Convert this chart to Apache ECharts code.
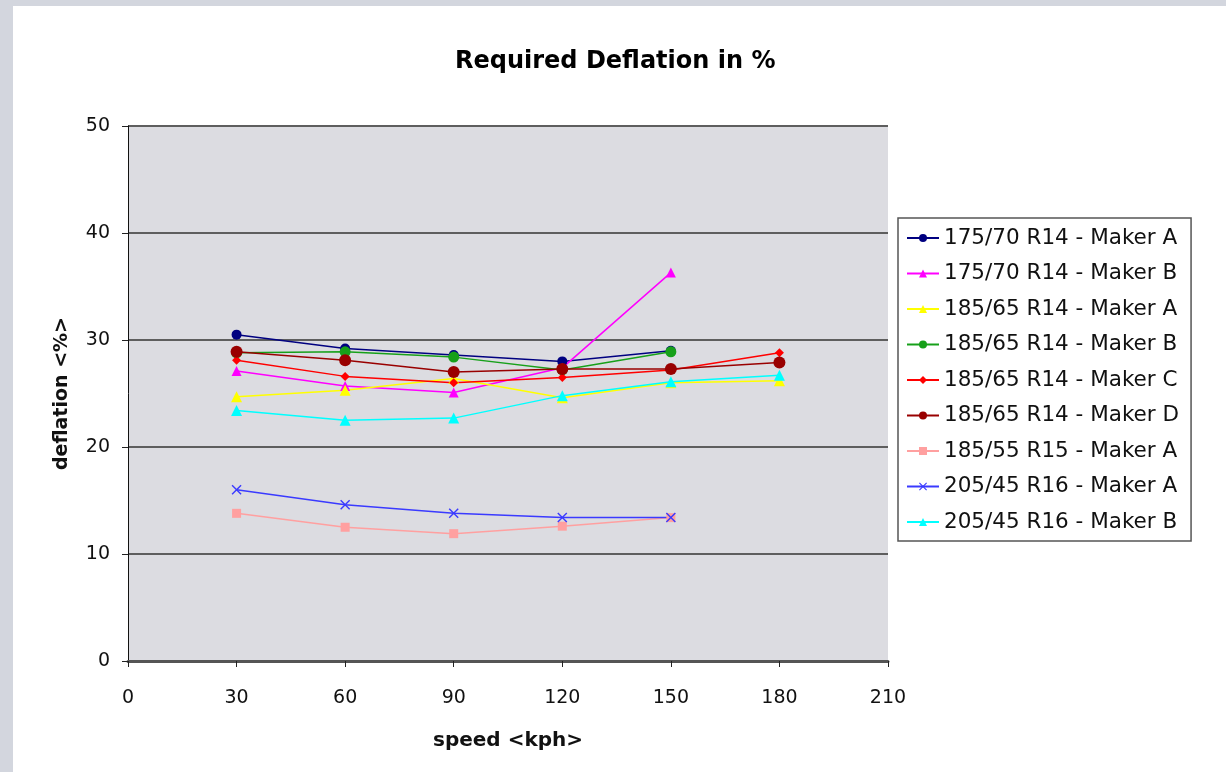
<!DOCTYPE html>
<html>
<head>
<meta charset="utf-8">
<script src="https://cdn.jsdelivr.net/npm/echarts@6/dist/echarts.min.js"></script>
<style>
html,body{margin:0;padding:0;background:#fff;}
#main{width:1226px;height:772px;}
</style>
</head>
<body>
<div id="main"></div>
<script>
var speeds = [30, 60, 90, 120, 150, 180];
var xTicks = [0, 30, 60, 90, 120, 150, 180, 210];
var yTicks = [0, 10, 20, 30, 40, 50];

var names = [
  '175/70 R14 - Maker A',
  '175/70 R14 - Maker B',
  '185/65 R14 - Maker A',
  '185/65 R14 - Maker B',
  '185/65 R14 - Maker C',
  '185/65 R14 - Maker D',
  '185/55 R15 - Maker A',
  '205/45 R16 - Maker A',
  '205/45 R16 - Maker B'
];

var s175A = [30.5, 29.2, 28.6, 28.0, 29.0, null];
var s175B = [27.1, 25.7, 25.1, 27.4, 36.3, null];
var s185A = [24.7, 25.3, 26.4, 24.6, 26.0, 26.2];
var s185B = [28.8, 28.9, 28.4, 27.2, 28.9, null];
var s185C = [28.1, 26.6, 26.0, 26.5, 27.2, 28.8];
var s185D = [28.9, 28.1, 27.0, 27.3, 27.3, 27.9];
var s18555A = [13.8, 12.5, 11.9, 12.6, 13.4, null];
var s205A = [16.0, 14.6, 13.8, 13.4, 13.4, null];
var s205B = [23.4, 22.5, 22.7, 24.8, 26.1, 26.7];

var values = [s175A, s175B, s185A, s185B, s185C, s185D, s18555A, s205A, s205B];
var colors = ['#000080', '#ff00ff', '#ffff00', '#17a01a', '#ff0000', '#990000', '#ffa0a0', '#3a3aff', '#00ffff'];
var crossPath = 'path://M0,1L1,0L5,4L9,0L10,1L6,5L10,9L9,10L5,6L1,10L0,9L4,5Z';
var symbols = ['circle', 'triangle', 'triangle', 'circle', 'diamond', 'circle', 'rect', crossPath, 'triangle'];
var sizes = [10, 10, 11, 11, 9, 12, 9, 10, 11];

var FONT = '"DejaVu Sans", "Liberation Sans", Arial, sans-serif';

var series = names.map(function (n, i) {
  var d = [];
  speeds.forEach(function (s, j) {
    if (values[i][j] !== null) d.push([s, values[i][j]]);
  });
  return {
    name: n,
    type: 'line',
    data: d,
    symbol: symbols[i],
    symbolSize: sizes[i],
    showSymbol: true,
    animation: false,
    lineStyle: { color: colors[i], width: 1.5 },
    itemStyle: { color: colors[i] },
    z: 3
  };
});

var chart = echarts.init(document.getElementById('main'), null, { renderer: 'canvas' });
chart.setOption({
  backgroundColor: '#ffffff',
  animation: false,
  textStyle: { fontFamily: FONT },
  graphic: [
    { type: 'rect', left: 0, top: 0, shape: { width: 13, height: 772 }, style: { fill: '#d3d6de' }, silent: true },
    { type: 'rect', left: 0, top: 0, shape: { width: 1226, height: 6 }, style: { fill: '#d3d6de' }, silent: true }
  ],
  title: {
    text: 'Required Deflation in %',
    left: 450,
    top: 45,
    textStyle: { fontFamily: FONT, fontSize: 24, fontWeight: 'bold', color: '#000' }
  },
  grid: {
    left: 128, top: 126, right: 338, bottom: 111,
    show: true, backgroundColor: '#dcdce1', borderWidth: 0
  },
  legend: {
    orient: 'vertical',
    left: 898, top: 218,
    padding: [9, 12, 8, 8],
    itemGap: 13.5,
    itemWidth: 32, itemHeight: 10,
    borderColor: '#555', borderWidth: 1.5,
    backgroundColor: '#fff',
    textStyle: { fontFamily: FONT, fontSize: 21.5, lineHeight: 21, color: '#111' },
    data: names
  },
  xAxis: {
    type: 'value',
    min: 0, max: 210, interval: 30,
    axisLine: { show: true, lineStyle: { color: '#555', width: 3 } },
    axisTick: { show: true, length: 6, lineStyle: { color: '#222', width: 1 } },
    axisLabel: { fontFamily: FONT, fontSize: 19, color: '#111', margin: 28,
      formatter: function (v) { return xTicks.indexOf(v) >= 0 ? String(v) : ''; } },
    splitLine: { show: false },
    name: 'speed <kph>',
    nameLocation: 'middle',
    nameGap: 70,
    nameTextStyle: { fontFamily: FONT, fontSize: 20, fontWeight: 'bold', color: '#111' }
  },
  yAxis: {
    type: 'value',
    min: 0, max: 50, interval: 10,
    axisLine: { show: true, onZero: false, lineStyle: { color: '#111', width: 1 } },
    axisTick: { show: true, length: 6, lineStyle: { color: '#222', width: 1 } },
    axisLabel: { fontFamily: FONT, fontSize: 19, color: '#111', margin: 18,
      formatter: function (v) { return yTicks.indexOf(v) >= 0 ? String(v) : ''; } },
    splitLine: { show: true, lineStyle: { color: '#5e5e5e', width: 2 } },
    name: 'deflation <%>',
    nameLocation: 'middle',
    nameRotate: 90,
    nameGap: 56,
    nameTextStyle: { fontFamily: FONT, fontSize: 19, fontWeight: 'bold', color: '#111' }
  },
  series: series
});
</script>
</body>
</html>
